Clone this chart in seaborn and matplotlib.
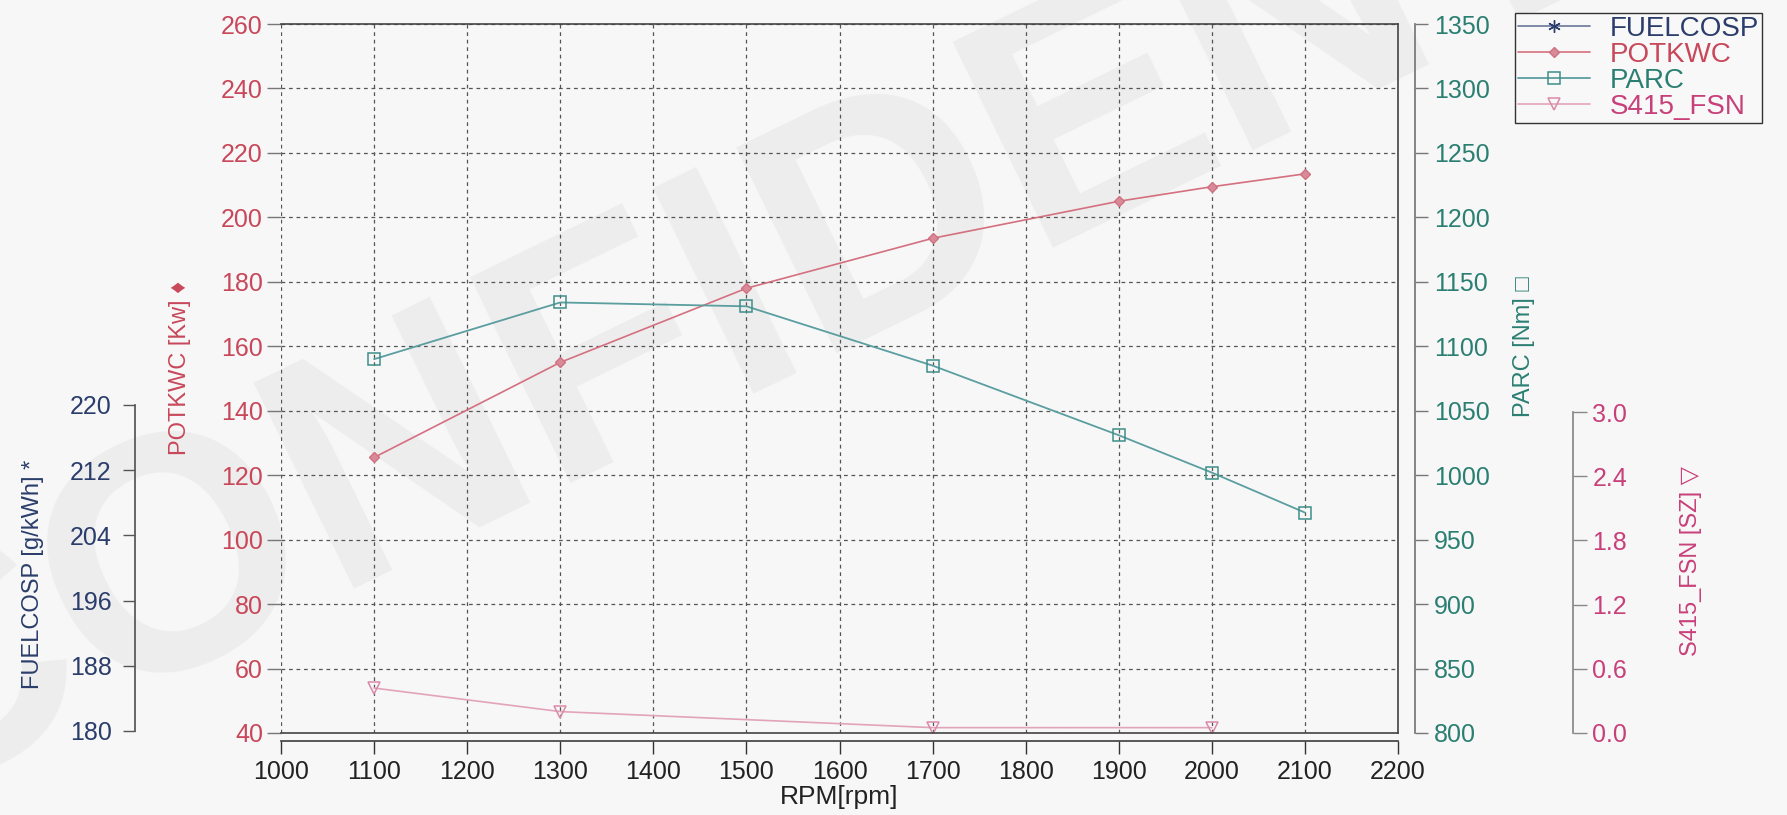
import matplotlib
matplotlib.use('Agg')
import matplotlib.pyplot as plt
import seaborn as sns

# Data
rpm = [1100, 1300, 1500, 1700, 1900, 2000, 2100]
potkwc = [125.5, 155, 178, 193.5, 205, 209.5, 213.5]
parc = [1090, 1134, 1131, 1085, 1031, 1002, 971]
fsn_rpm = [1100, 1300, 1700, 2000]
fsn = [0.42, 0.20, 0.05, 0.05]
fuel_rpm = []
fuelcosp = []

rpm_ticks = list(range(1000, 2201, 100))
pot_ticks = list(range(40, 261, 20))
parc_ticks = list(range(800, 1351, 50))
fsn_ticks = [0.0, 0.6, 1.2, 1.8, 2.4, 3.0]
fuel_ticks = [180, 188, 196, 204, 212, 220]

# colours
C_FUEL = '#2b3d6b'
C_POT = '#c8485a'
C_PARC = '#2b7f72'
C_FSN = '#c8407a'
C_FRAME = '#444444'

sns.set_theme(style='white')
plt.rcParams['font.family'] = ['Liberation Sans', 'DejaVu Sans']
plt.rcParams['font.size'] = 17

W, H = 1787, 815
fig = plt.figure(figsize=(W / 100, H / 100), dpi=100, facecolor='#f7f7f7')


def box(x0, y0, x1, y1):
    # pixel box (top-left origin) -> figure fraction
    return [x0 / W, 1 - y1 / H, (x1 - x0) / W, (y1 - y0) / H]


# faint scan watermark
fig.text(0.538, 0.767, 'CONFIDENTIAL', fontsize=240, fontweight='bold',
         color='#ededed', rotation=26, ha='center', va='center',
         rotation_mode='anchor', zorder=-1)

TICK_FS = 18

# main axis: POTKWC
ax = fig.add_axes(box(281, 24, 1398, 733))
ax.set_facecolor('none')
ax.set_xlim(1000, 2200)
ax.set_ylim(40, 260)
ax.set_xticks(rpm_ticks)
ax.set_yticks(pot_ticks)
ax.grid(True, linestyle=(0, (3, 3)), color='#555555', lw=0.9)
ax.get_xgridlines()[0].set_visible(False)
ax.set_axisbelow(True)
for s in ['top', 'right']:
    ax.spines[s].set_color(C_FRAME)
    ax.spines[s].set_linewidth(1.2)
ax.spines['left'].set_visible(False)
ax.spines['bottom'].set_position(('outward', 6))
ax.spines['bottom'].set_color(C_FRAME)
ax.tick_params(axis='x', bottom=True, direction='out', length=9.5,
               width=1, color='#333333', labelsize=TICK_FS,
               labelcolor='#222222', pad=4)
ax.tick_params(axis='y', left=True, direction='out', length=10,
               width=1, color='#777777', labelsize=TICK_FS,
               labelcolor=C_POT, pad=3)
ax.set_xlabel('RPM[rpm]', fontsize=19, color='#222222', labelpad=1)
ax.set_ylabel('POTKWC [Kw] ♦', fontsize=17, color=C_POT)
ax.yaxis.set_label_coords(-0.081, 0.515)

sns.lineplot(x=rpm, y=potkwc, ax=ax, color='#d4707f', lw=1.2,
             marker='D', markersize=5, markerfacecolor='#d98a98',
             markeredgecolor='#d07080', markeredgewidth=1,
             label='POTKWC', legend=False)

# PARC axis (right)
ax_parc = ax.twinx()
ax_parc.set_ylim(800, 1350)
ax_parc.set_yticks(parc_ticks)
for s in ['top', 'left', 'bottom']:
    ax_parc.spines[s].set_visible(False)
ax_parc.spines['right'].set_position(('outward', 12))
ax_parc.spines['right'].set_color('#777777')
ax_parc.tick_params(axis='y', right=True, direction='out', length=9,
                    width=1, color='#777777', labelsize=TICK_FS,
                    labelcolor=C_PARC, pad=5)
ax_parc.set_ylabel('PARC [Nm] □', fontsize=17, color=C_PARC)
ax_parc.yaxis.set_label_coords(1.103, 0.545)
sns.lineplot(x=rpm, y=parc, ax=ax_parc, color='#5b9ea0', lw=1.3,
             marker='s', markersize=9, markerfacecolor='none',
             markeredgecolor='#3f8f8a', markeredgewidth=1.1,
             label='PARC', legend=False)

# S415_FSN axis (far right, lower part)
ax_fsn = fig.add_axes(box(281, 412, 1398, 733))
ax_fsn.set_facecolor('none')
ax_fsn.set_xlim(1000, 2200)
ax_fsn.set_ylim(0, 3.0)
ax_fsn.set_yticks(fsn_ticks)
ax_fsn.set_yticklabels([f'{v:.1f}' for v in fsn_ticks])
ax_fsn.set_xticks([])
ax_fsn.yaxis.tick_right()
ax_fsn.yaxis.set_label_position('right')
for s in ['top', 'left']:
    ax_fsn.spines[s].set_visible(False)
ax_fsn.spines['bottom'].set_color(C_FRAME)
ax_fsn.spines['bottom'].set_linewidth(1.2)
ax_fsn.spines['right'].set_position(('outward', 126))
ax_fsn.spines['right'].set_color('#888888')
ax_fsn.tick_params(axis='y', right=True, direction='out', length=10,
                   width=1, color='#888888', labelsize=TICK_FS,
                   labelcolor=C_FSN, pad=4)
ax_fsn.set_ylabel('S415_FSN [SZ] ▽', fontsize=17, color=C_FSN)
ax_fsn.yaxis.set_label_coords(1.2525, 0.535)
sns.lineplot(x=fsn_rpm, y=fsn, ax=ax_fsn, color='#e3a3bb', lw=1.2,
             marker='v', markersize=8, markerfacecolor='none',
             markeredgecolor='#d98aa8', markeredgewidth=1.1,
             label='S415_FSN', legend=False)

# FUELCOSP axis (far left, lower part)
ax_fuel = fig.add_axes(box(281, 405, 1398, 731))
ax_fuel.set_facecolor('none')
ax_fuel.set_xlim(1000, 2200)
ax_fuel.set_ylim(180, 220)
ax_fuel.set_yticks(fuel_ticks)
ax_fuel.set_xticks([])
for s in ['top', 'right', 'bottom']:
    ax_fuel.spines[s].set_visible(False)
ax_fuel.spines['left'].set_position(('outward', 105))
ax_fuel.spines['left'].set_color('#555555')
ax_fuel.tick_params(axis='y', left=True, direction='out', length=9,
                    width=1, color='#555555', labelsize=TICK_FS,
                    labelcolor=C_FUEL, pad=8)
ax_fuel.set_ylabel('FUELCOSP [g/kWh] *', fontsize=17, color=C_FUEL)
ax_fuel.yaxis.set_label_coords(-0.212, 0.48)
fuel_line, = ax_fuel.plot(fuel_rpm, fuelcosp, color='#6a7898', lw=1.2,
                          marker=(6, 2, 0), markersize=9,
                          markeredgecolor=C_FUEL, label='FUELCOSP')

# legend
handles = [fuel_line, ax.lines[-1], ax_parc.lines[-1], ax_fsn.lines[-1]]
labels = ['FUELCOSP', 'POTKWC', 'PARC', 'S415_FSN']
leg = fig.legend(handles, labels, loc='upper left',
                 bbox_to_anchor=(1515 / W, 1 - 13 / H), fontsize=20,
                 frameon=True, fancybox=False, edgecolor='#333333',
                 facecolor='#f8f8f8', framealpha=1, handlelength=2.6,
                 labelspacing=0.0, borderpad=0.1, handletextpad=0.7,
                 borderaxespad=0)
leg.get_frame().set_linewidth(1.0)
for t, c in zip(leg.get_texts(), [C_FUEL, C_POT, C_PARC, C_FSN]):
    t.set_color(c)

fig.savefig('out.png', dpi=100, facecolor=fig.get_facecolor())
